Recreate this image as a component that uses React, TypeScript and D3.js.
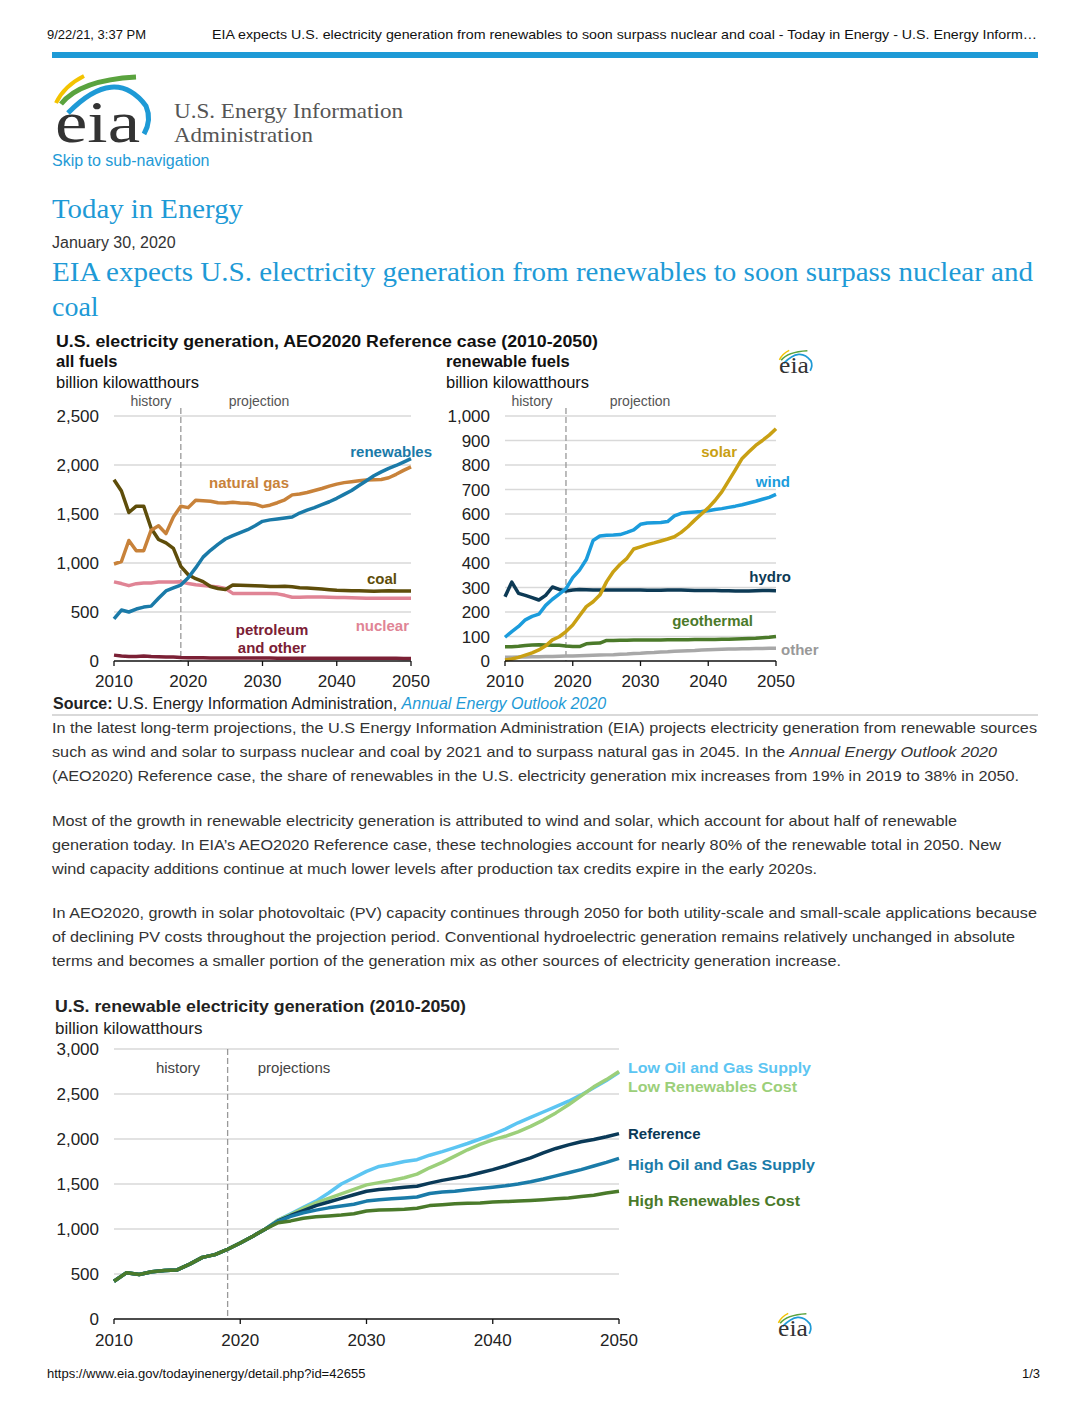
import React from "react";
import * as d3 from "d3";

// ---------- DATA ----------
const years = d3.range(2010, 2051);
const yearTicks = [2010, 2020, 2030, 2040, 2050];

// all fuels (billion kWh)
const coal = [1850, 1735, 1515, 1580, 1580, 1355, 1240, 1205, 1150, 965, 880, 840, 810, 760, 740, 730, 775, 772, 770, 768, 765, 760, 760, 762, 758, 748, 745, 740, 735, 728, 722, 720, 718, 716, 715, 712, 715, 716, 715, 714, 714];
const naturalGas = [990, 1015, 1230, 1125, 1125, 1335, 1380, 1300, 1470, 1580, 1565, 1640, 1635, 1630, 1615, 1612, 1620, 1612, 1610, 1600, 1575, 1590, 1615, 1645, 1695, 1705, 1720, 1740, 1760, 1785, 1805, 1820, 1830, 1840, 1848, 1850, 1852, 1870, 1905, 1945, 1980];
const renewables = [430, 520, 500, 530, 550, 560, 640, 715, 745, 775, 850, 950, 1060, 1130, 1190, 1245, 1280, 1310, 1340, 1380, 1425, 1440, 1450, 1460, 1470, 1510, 1540, 1565, 1595, 1625, 1660, 1700, 1740, 1790, 1840, 1890, 1930, 1965, 1995, 2030, 2065];
const nuclear = [807, 790, 769, 789, 797, 797, 805, 805, 807, 809, 790, 778, 770, 762, 755, 740, 690, 688, 688, 688, 688, 688, 685, 670, 650, 650, 652, 652, 652, 650, 648, 648, 645, 642, 640, 640, 640, 640, 640, 640, 640];
const petroleum = [60, 50, 45, 45, 50, 45, 43, 40, 40, 35, 33, 32, 32, 31, 31, 30, 30, 30, 30, 30, 30, 30, 29, 29, 29, 29, 29, 29, 28, 28, 28, 28, 28, 27, 27, 27, 27, 27, 27, 26, 26];

// renewable fuels (billion kWh)
const hydro = [262, 322, 276, 268, 259, 249, 268, 302, 292, 286, 290, 292, 291, 290, 290, 290, 290, 290, 290, 290, 290, 289, 289, 289, 290, 290, 290, 289, 288, 288, 288, 288, 287, 287, 286, 286, 286, 287, 288, 288, 287];
const wind = [97, 120, 141, 168, 182, 191, 227, 252, 273, 295, 340, 371, 414, 492, 510, 513, 514, 516, 525, 535, 558, 563, 564, 565, 569, 592, 603, 606, 608, 610, 613, 618, 622, 627, 632, 638, 645, 652, 660, 668, 680];
const solar = [4, 8, 15, 24, 33, 45, 62, 86, 99, 120, 147, 185, 222, 242, 269, 324, 365, 395, 419, 457, 466, 475, 482, 490, 498, 507, 525, 548, 575, 600, 625, 655, 690, 735, 780, 827, 854, 880, 900, 922, 948];
const geothermal = [58, 58, 60, 63, 65, 66, 65, 64, 64, 61, 59, 59, 70, 72, 73, 84, 84, 85, 85, 86, 86, 86, 86, 86, 87, 87, 87, 87, 88, 88, 88, 88, 89, 89, 90, 91, 92, 93, 95, 97, 100];
const other = [15, 15, 16, 16, 17, 17, 18, 18, 19, 20, 20, 21, 22, 23, 24, 25, 26, 28, 29, 31, 32, 34, 35, 37, 38, 40, 41, 42, 43, 45, 46, 47, 48, 49, 49, 50, 50, 51, 51, 52, 52];

// scenarios (billion kWh)
const histYears = d3.range(2010, 2023);
const history = [420, 515, 495, 525, 540, 545, 610, 685, 715, 775, 845, 920, 1000];
const projYears = d3.range(2022, 2051);
const lowOilGas = [1000, 1100, 1170, 1240, 1310, 1400, 1500, 1570, 1640, 1695, 1720, 1750, 1770, 1820, 1860, 1905, 1950, 2000, 2050, 2110, 2180, 2240, 2300, 2360, 2420, 2490, 2570, 2650, 2740];
const lowRenewCost = [1000, 1100, 1160, 1230, 1290, 1340, 1390, 1440, 1490, 1515, 1540, 1570, 1610, 1680, 1740, 1810, 1880, 1940, 1990, 2030, 2080, 2140, 2210, 2290, 2380, 2480, 2580, 2660, 2750];
const reference = [1000, 1090, 1150, 1205, 1260, 1300, 1340, 1380, 1420, 1440, 1450, 1465, 1475, 1510, 1540, 1565, 1590, 1625, 1660, 1700, 1745, 1790, 1845, 1895, 1935, 1970, 1995, 2025, 2060];
const highOilGas = [1000, 1085, 1140, 1180, 1210, 1235, 1255, 1275, 1310, 1325, 1335, 1345, 1355, 1395, 1410, 1420, 1435, 1450, 1465, 1480, 1500, 1525, 1555, 1590, 1625, 1660, 1700, 1740, 1785];
const highRenewCost = [1000, 1070, 1090, 1120, 1135, 1145, 1155, 1170, 1200, 1210, 1215, 1220, 1230, 1260, 1270, 1280, 1285, 1290, 1300, 1305, 1310, 1318, 1325, 1335, 1345, 1360, 1375, 1400, 1420];

const leftTicks = [0, 500, 1000, 1500, 2000, 2500];
const rightTicks = [0, 100, 200, 300, 400, 500, 600, 700, 800, 900, 1000];
const bottomTicks = [0, 500, 1000, 1500, 2000, 2500, 3000];

const paragraphs: { y: number; w: number; parts: { t: string; i?: boolean }[] }[] = [
  { y: 727, w: 985, parts: [{ t: "In the latest long-term projections, the U.S Energy Information Administration (EIA) projects electricity generation from renewable sources" }] },
  { y: 751, w: 945, parts: [{ t: "such as wind and solar to surpass nuclear and coal by 2021 and to surpass natural gas in 2045. In the " }, { t: "Annual Energy Outlook 2020", i: true }] },
  { y: 775, w: 967, parts: [{ t: "(AEO2020) Reference case, the share of renewables in the U.S. electricity generation mix increases from 19% in 2019 to 38% in 2050." }] },
  { y: 820, w: 905, parts: [{ t: "Most of the growth in renewable electricity generation is attributed to wind and solar, which account for about half of renewable" }] },
  { y: 844, w: 949, parts: [{ t: "generation today. In EIA\u2019s AEO2020 Reference case, these technologies account for nearly 80% of the renewable total in 2050. New" }] },
  { y: 868, w: 765, parts: [{ t: "wind capacity additions continue at much lower levels after production tax credits expire in the early 2020s." }] },
  { y: 912, w: 985, parts: [{ t: "In AEO2020, growth in solar photovoltaic (PV) capacity continues through 2050 for both utility-scale and small-scale applications because" }] },
  { y: 936, w: 963, parts: [{ t: "of declining PV costs throughout the projection period. Conventional hydroelectric generation remains relatively unchanged in absolute" }] },
  { y: 960, w: 789, parts: [{ t: "terms and becomes a smaller portion of the generation mix as other sources of electricity generation increase." }] },
];

// ---------- STYLE ----------
const SANS = "'Liberation Sans', Arial, sans-serif";
const SERIF = "'Liberation Serif', 'Times New Roman', serif";
const BLUE = "#1e9ad6";
const C = {
  renewables: "#1a7aa8",
  gas: "#c8823a",
  coal: "#5e4d0a",
  nuclear: "#e08495",
  petroleum: "#7b2035",
  solar: "#c9a013",
  wind: "#1b9cdc",
  hydro: "#0d3a55",
  geo: "#4b7a2a",
  other: "#a8a8a8",
  lo: "#5cc5f2",
  lr: "#9ccf7a",
  ref: "#0a3a58",
  ho: "#1a7ba8",
  hr: "#4a7a2a",
};

function Logo({ tx, ty, s, fs }: { tx: number; ty: number; s: number; fs: number }) {
  return (
    <g transform={`translate(${tx},${ty}) scale(${s})`}>
      <path d="M56,103 Q64,86 84,76" fill="none" stroke="#f3c300" strokeWidth={4} />
      <path d="M61,104 Q80,80 136,77" fill="none" stroke="#5aa33e" strokeWidth={5} />
      <path d="M68,113 Q115,65 146,106 Q152,120 144,134" fill="none" stroke={BLUE} strokeWidth={5} />
      <text x={55} y={142} fontFamily={SERIF} fontSize={fs} fill="#333" textLength={85} lengthAdjust="spacingAndGlyphs">eia</text>
    </g>
  );
}

type Series = { vals: number[]; color: string; xs?: number[] };

function Chart({ x0, x1, y0, y1, max, ticks, series, dashTop, labelX, tickFmt, sw }: {
  x0: number; x1: number; y0: number; y1: number; max: number; ticks: number[]; series: Series[]; dashTop: number; labelX: number; tickFmt: (v: number) => string; sw: number;
}) {
  const x = d3.scaleLinear().domain([2010, 2050]).range([x0, x1]);
  const y = d3.scaleLinear().domain([0, max]).range([y0, y1]);
  return (
    <g>
      {ticks.map((t) => (
        <g key={t}>
          {t > 0 && <line x1={x0} x2={x1} y1={y(t)} y2={y(t)} stroke="#d9d9d9" strokeWidth={1.3} />}
          <text x={labelX} y={y(t) + 6} textAnchor="end" fontFamily={SANS} fontSize={17} fill="#222">{tickFmt(t)}</text>
        </g>
      ))}
      <line x1={x(2019)} x2={x(2019)} y1={dashTop} y2={y0} stroke="#999" strokeWidth={1.3} strokeDasharray="6,3" />
      {series.map((s, i) => {
        const xs = s.xs || years;
        const line = d3.line<number>().x((_, j) => x(xs[j])).y((v) => y(v));
        return <path key={i} d={line(s.vals) || ""} fill="none" stroke={s.color} strokeWidth={sw} strokeLinejoin="round" />;
      })}
      <line x1={x0} x2={x1} y1={y0} y2={y0} stroke="#111" strokeWidth={1.3} />
      {yearTicks.map((t) => (
        <g key={t}>
          <line x1={x(t)} x2={x(t)} y1={y0} y2={y0 + 5} stroke="#111" strokeWidth={1.3} />
        </g>
      ))}
    </g>
  );
}

export default function App() {
  const fmt = d3.format(",");
  const xL = d3.scaleLinear().domain([2010, 2050]).range([114, 411]);
  const xR = d3.scaleLinear().domain([2010, 2050]).range([505, 776]);
  const xB = d3.scaleLinear().domain([2010, 2050]).range([114, 619]);
  const full = (p: number[]) => history.slice(0, -1).concat(p);
  const fullYears = histYears.slice(0, -1).concat(projYears);
  return (
    <svg width={1088} height={1408} viewBox="0 0 1088 1408" style={{ position: "absolute", left: 0, top: 0, background: "#fff" }}>
      {/* page header */}
      <text x={47} y={38.5} fontFamily={SANS} fontSize={13} fill="#111">9/22/21, 3:37 PM</text>
      <text x={212} y={38.5} fontFamily={SANS} fontSize={13} fill="#111" textLength={825} lengthAdjust="spacingAndGlyphs">EIA expects U.S. electricity generation from renewables to soon surpass nuclear and coal - Today in Energy - U.S. Energy Inform…</text>
      <rect x={52} y={52} width={986} height={6} fill={BLUE} />
      <Logo tx={0} ty={0} s={1} fs={60} />
      <text x={174} y={118} fontFamily={SERIF} fontSize={21.5} fill="#555" textLength={229} lengthAdjust="spacingAndGlyphs">U.S. Energy Information</text>
      <text x={174} y={142} fontFamily={SERIF} fontSize={21.5} fill="#555" textLength={139} lengthAdjust="spacingAndGlyphs">Administration</text>
      <text x={52} y={165.5} fontFamily={SANS} fontSize={16} fill={BLUE}>Skip to sub-navigation</text>
      <text x={52} y={218} fontFamily={SERIF} fontSize={28} fill={BLUE} textLength={191} lengthAdjust="spacingAndGlyphs">Today in Energy</text>
      <text x={52} y={247.5} fontFamily={SANS} fontSize={16} fill="#333">January 30, 2020</text>
      <text x={52} y={281} fontFamily={SERIF} fontSize={28} fill={BLUE} textLength={981} lengthAdjust="spacingAndGlyphs">EIA expects U.S. electricity generation from renewables to soon surpass nuclear and</text>
      <text x={52} y={316} fontFamily={SERIF} fontSize={28} fill={BLUE}>coal</text>

      {/* chart 1 headings */}
      <text x={56} y={347} fontFamily={SANS} fontSize={16.5} fontWeight="bold" fill="#111" textLength={542} lengthAdjust="spacingAndGlyphs">U.S. electricity generation, AEO2020 Reference case (2010-2050)</text>
      <text x={56} y={367} fontFamily={SANS} fontSize={16.5} fontWeight="bold" fill="#111">all fuels</text>
      <text x={56} y={388} fontFamily={SANS} fontSize={16.5} fill="#111">billion kilowatthours</text>
      <text x={446} y={367} fontFamily={SANS} fontSize={16.5} fontWeight="bold" fill="#111">renewable fuels</text>
      <text x={446} y={388} fontFamily={SANS} fontSize={16.5} fill="#111">billion kilowatthours</text>
      <Logo tx={759.8} ty={323.8} s={0.35} fs={66} />

      <text x={151} y={406} textAnchor="middle" fontFamily={SANS} fontSize={14} fill="#555">history</text>
      <text x={259} y={406} textAnchor="middle" fontFamily={SANS} fontSize={14} fill="#555">projection</text>
      <text x={532} y={406} textAnchor="middle" fontFamily={SANS} fontSize={14} fill="#555">history</text>
      <text x={640} y={406} textAnchor="middle" fontFamily={SANS} fontSize={14} fill="#555">projection</text>

      <Chart x0={114} x1={411} y0={661} y1={416} max={2500} ticks={leftTicks} dashTop={408} labelX={99} tickFmt={fmt} sw={3.5}
        series={[
          { vals: petroleum, color: C.petroleum },
          { vals: nuclear, color: C.nuclear },
          { vals: coal, color: C.coal },
          { vals: naturalGas, color: C.gas },
          { vals: renewables, color: C.renewables },
        ]} />
      {yearTicks.map((t) => (
        <text key={t} x={xL(t)} y={687} textAnchor="middle" fontFamily={SANS} fontSize={17} fill="#222">{t}</text>
      ))}
      <text x={432} y={456.5} textAnchor="end" fontFamily={SANS} fontSize={15} fontWeight="bold" fill={C.renewables}>renewables</text>
      <text x={209} y={487.5} fontFamily={SANS} fontSize={15} fontWeight="bold" fill={C.gas}>natural gas</text>
      <text x={397} y={583.5} textAnchor="end" fontFamily={SANS} fontSize={15} fontWeight="bold" fill={C.coal}>coal</text>
      <text x={409} y={630.5} textAnchor="end" fontFamily={SANS} fontSize={15} fontWeight="bold" fill={C.nuclear}>nuclear</text>
      <text x={272} y={634.5} textAnchor="middle" fontFamily={SANS} fontSize={15} fontWeight="bold" fill={C.petroleum}>petroleum</text>
      <text x={272} y={652.5} textAnchor="middle" fontFamily={SANS} fontSize={15} fontWeight="bold" fill={C.petroleum}>and other</text>

      <Chart x0={505} x1={776} y0={661} y1={416} max={1000} ticks={rightTicks} dashTop={408} labelX={490} tickFmt={fmt} sw={3.5}
        series={[
          { vals: other, color: C.other },
          { vals: geothermal, color: C.geo },
          { vals: hydro, color: C.hydro },
          { vals: wind, color: C.wind },
          { vals: solar, color: C.solar },
        ]} />
      {yearTicks.map((t) => (
        <text key={t} x={xR(t)} y={687} textAnchor="middle" fontFamily={SANS} fontSize={17} fill="#222">{t}</text>
      ))}
      <text x={737} y={456.5} textAnchor="end" fontFamily={SANS} fontSize={15} fontWeight="bold" fill={C.solar}>solar</text>
      <text x={790} y={486.5} textAnchor="end" fontFamily={SANS} fontSize={15} fontWeight="bold" fill={C.wind}>wind</text>
      <text x={791} y={581.5} textAnchor="end" fontFamily={SANS} fontSize={15} fontWeight="bold" fill={C.hydro}>hydro</text>
      <text x={753} y={625.5} textAnchor="end" fontFamily={SANS} fontSize={15} fontWeight="bold" fill={C.geo}>geothermal</text>
      <text x={781} y={654.5} fontFamily={SANS} fontSize={15} fontWeight="bold" fill="#999">other</text>

      {/* source */}
      <text x={53} y={709} fontFamily={SANS} fontSize={16} fill="#222">
        <tspan fontWeight="bold">Source:</tspan>
        <tspan> U.S. Energy Information Administration, </tspan>
        <tspan fontStyle="italic" fill={BLUE}>Annual Energy Outlook 2020</tspan>
      </text>
      <line x1={52} x2={1038} y1={715} y2={715} stroke="#ccc" strokeWidth={1.5} />

      {paragraphs.map((p, i) => (
        <text key={i} x={52} y={p.y + 5.5} fontFamily={SANS} fontSize={15} fill="#333" textLength={p.w} lengthAdjust="spacingAndGlyphs">
          {p.parts.map((pt, j) => (
            <tspan key={j} fontStyle={pt.i ? "italic" : "normal"}>{pt.t}</tspan>
          ))}
        </text>
      ))}

      {/* chart 2 */}
      <text x={55} y={1012} fontFamily={SANS} fontSize={17} fontWeight="bold" fill="#222" textLength={411} lengthAdjust="spacingAndGlyphs">U.S. renewable electricity generation (2010-2050)</text>
      <text x={55} y={1034} fontFamily={SANS} fontSize={17} fill="#222">billion kilowatthours</text>
      <Chart x0={114} x1={619} y0={1319} y1={1049} max={3000} ticks={bottomTicks} dashTop={1049} labelX={99} tickFmt={fmt} sw={3.5}
        series={[
          { vals: full(lowOilGas), color: C.lo, xs: fullYears },
          { vals: full(lowRenewCost), color: C.lr, xs: fullYears },
          { vals: full(reference), color: C.ref, xs: fullYears },
          { vals: full(highOilGas), color: C.ho, xs: fullYears },
          { vals: full(highRenewCost), color: C.hr, xs: fullYears },
        ]} />
      {yearTicks.map((t) => (
        <text key={t} x={xB(t)} y={1346} textAnchor="middle" fontFamily={SANS} fontSize={17} fill="#222">{t}</text>
      ))}
      <text x={178} y={1073} textAnchor="middle" fontFamily={SANS} fontSize={15} fill="#444">history</text>
      <text x={294} y={1073} textAnchor="middle" fontFamily={SANS} fontSize={15} fill="#444">projections</text>
      <text x={628} y={1073} fontFamily={SANS} fontSize={15} fontWeight="bold" fill={C.lo} textLength={183} lengthAdjust="spacingAndGlyphs">Low Oil and Gas Supply</text>
      <text x={628} y={1092} fontFamily={SANS} fontSize={15} fontWeight="bold" fill={C.lr} textLength={169} lengthAdjust="spacingAndGlyphs">Low Renewables Cost</text>
      <text x={628} y={1139} fontFamily={SANS} fontSize={15} fontWeight="bold" fill={C.ref}>Reference</text>
      <text x={628} y={1170} fontFamily={SANS} fontSize={15} fontWeight="bold" fill={C.ho} textLength={187} lengthAdjust="spacingAndGlyphs">High Oil and Gas Supply</text>
      <text x={628} y={1206} fontFamily={SANS} fontSize={15} fontWeight="bold" fill={C.hr} textLength={172} lengthAdjust="spacingAndGlyphs">High Renewables Cost</text>
      <Logo tx={758.8} ty={1286.8} s={0.35} fs={66} />

      {/* footer */}
      <text x={47} y={1377.5} fontFamily={SANS} fontSize={13} fill="#111">https://www.eia.gov/todayinenergy/detail.php?id=42655</text>
      <text x={1040} y={1377.5} textAnchor="end" fontFamily={SANS} fontSize={13} fill="#111">1/3</text>
    </svg>
  );
}
